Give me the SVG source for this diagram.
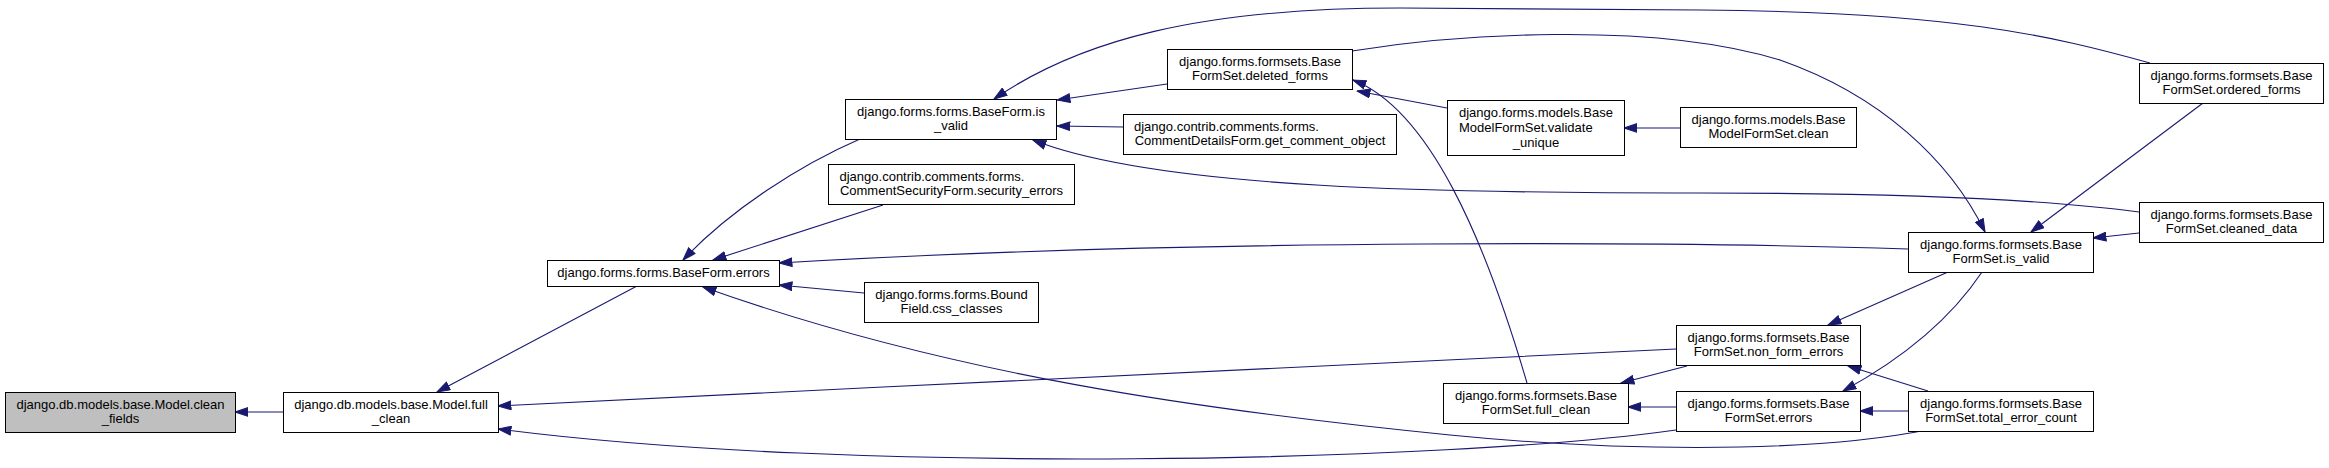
<svg xmlns="http://www.w3.org/2000/svg" width="2329" height="468" viewBox="0 0 2329 468">
<style>
.node rect{fill:#ffffff;stroke:#000000;stroke-width:1}
.node rect.hl{fill:#bfbfbf}
.node text{font-family:"Liberation Sans",Arial,sans-serif;font-size:13px;fill:#000000;text-anchor:middle}
.node text.l{text-anchor:start}
.edge{fill:none;stroke:#191970;stroke-width:1.1;marker-end:url(#arr)}
</style>
<defs>
<marker id="arr" markerUnits="userSpaceOnUse" markerWidth="14" markerHeight="10" viewBox="0 0 13 9" refX="12.5" refY="4.5" orient="auto">
<path d="M0.5,0.5 L12.5,4.5 L0.5,8.5 z" fill="#191970" stroke="#191970" stroke-width="1"/>
</marker>
</defs>
<rect x="0" y="0" width="2329" height="468" fill="#ffffff"/>
<g id="edges">
<path class="edge" d="M283,412 L235,412"/>
<path class="edge" d="M637,286 L437,392"/>
<path class="edge" d="M1676,349 C1400,362 900,386 498,406"/>
<path class="edge" d="M1676,430 C1450,462 850,475 498,429"/>
<path class="edge" d="M1927,430 C1800,455 1600,450 1450,435 C1200,410 950,375 703,287"/>
<path class="edge" d="M860,139 C800,165 730,210 683,260"/>
<path class="edge" d="M883,205 L713,260"/>
<path class="edge" d="M1908,249 C1700,242 1200,238 779,263"/>
<path class="edge" d="M864,293 L779,285"/>
<path class="edge" d="M1167,84 L1057,100"/>
<path class="edge" d="M1123,127 L1057,126"/>
<path class="edge" d="M2139,212 C2050,200 1900,193 1700,193 C1450,193 1160,190 1033,140"/>
<path class="edge" d="M2150,63 C2050,35 1950,12 1700,10 L1400,8 C1200,8 1080,40 994,99"/>
<path class="edge" d="M1352,51 C1450,35 1650,20 1780,60 C1880,95 1950,160 1985,232"/>
<path class="edge" d="M2203,103 L2031,232"/>
<path class="edge" d="M2139,233 L2093,238"/>
<path class="edge" d="M1447,108 L1357,91"/>
<path class="edge" d="M1527,383 C1485,240 1430,110 1353,80"/>
<path class="edge" d="M1680,128 L1624,128"/>
<path class="edge" d="M1908,411 L1860,411"/>
<path class="edge" d="M1928,391 L1848,366"/>
<path class="edge" d="M1948,272 L1828,325"/>
<path class="edge" d="M1982,272 C1950,320 1900,360 1843,391"/>
<path class="edge" d="M1687,366 L1621,383"/>
<path class="edge" d="M1676,407 L1628,407"/>
</g>
<g id="n_clean_fields" class="node"><rect class="hl" x="5.5" y="392.5" width="230" height="40"/><text x="120.5" y="408.5">django.db.models.base.Model.clean</text><text x="120.5" y="423">_fields</text></g>
<g id="n_model_full_clean" class="node"><rect x="283.5" y="392.5" width="215" height="40"/><text x="391" y="408.5">django.db.models.base.Model.full</text><text x="391" y="423">_clean</text></g>
<g id="n_baseform_errors" class="node"><rect x="547.5" y="260.5" width="232" height="26"/><text x="663.5" y="277">django.forms.forms.BaseForm.errors</text></g>
<g id="n_baseform_is_valid" class="node"><rect x="845.5" y="99.5" width="211" height="40"/><text x="951" y="115.5">django.forms.forms.BaseForm.is</text><text x="951" y="130">_valid</text></g>
<g id="n_security_errors" class="node"><rect x="828.5" y="164.5" width="246" height="40"/><text class="l" x="839.5" y="180.5">django.contrib.comments.forms.</text><text x="951.5" y="195">CommentSecurityForm.security_errors</text></g>
<g id="n_css_classes" class="node"><rect x="864.5" y="282.5" width="174" height="40"/><text x="951.5" y="298.5">django.forms.forms.Bound</text><text x="951.5" y="313">Field.css_classes</text></g>
<g id="n_deleted_forms" class="node"><rect x="1167.5" y="49.5" width="185" height="40"/><text x="1260" y="65.5">django.forms.formsets.Base</text><text x="1260" y="80">FormSet.deleted_forms</text></g>
<g id="n_get_comment_object" class="node"><rect x="1123.5" y="114.5" width="273" height="40"/><text class="l" x="1134" y="130.5">django.contrib.comments.forms.</text><text x="1260" y="145">CommentDetailsForm.get_comment_object</text></g>
<g id="n_validate_unique" class="node"><rect x="1447.5" y="100.5" width="177" height="55"/><text class="l" x="1459" y="116.5">django.forms.models.Base</text><text class="l" x="1459" y="131.5">ModelFormSet.validate</text><text x="1536" y="146.5">_unique</text></g>
<g id="n_modelformset_clean" class="node"><rect x="1680.5" y="107.5" width="176" height="40"/><text x="1768.5" y="123.5">django.forms.models.Base</text><text x="1768.5" y="138">ModelFormSet.clean</text></g>
<g id="n_ordered_forms" class="node"><rect x="2139.5" y="63.5" width="184" height="40"/><text x="2231.5" y="79.5">django.forms.formsets.Base</text><text x="2231.5" y="94">FormSet.ordered_forms</text></g>
<g id="n_cleaned_data" class="node"><rect x="2139.5" y="202.5" width="184" height="40"/><text x="2231.5" y="218.5">django.forms.formsets.Base</text><text x="2231.5" y="233">FormSet.cleaned_data</text></g>
<g id="n_formset_is_valid" class="node"><rect x="1908.5" y="232.5" width="185" height="40"/><text x="2001" y="248.5">django.forms.formsets.Base</text><text x="2001" y="263">FormSet.is_valid</text></g>
<g id="n_non_form_errors" class="node"><rect x="1676.5" y="325.5" width="184" height="40"/><text x="1768.5" y="341.5">django.forms.formsets.Base</text><text x="1768.5" y="356">FormSet.non_form_errors</text></g>
<g id="n_formset_full_clean" class="node"><rect x="1443.5" y="383.5" width="185" height="40"/><text x="1536" y="399.5">django.forms.formsets.Base</text><text x="1536" y="414">FormSet.full_clean</text></g>
<g id="n_formset_errors" class="node"><rect x="1676.5" y="391.5" width="184" height="40"/><text x="1768.5" y="407.5">django.forms.formsets.Base</text><text x="1768.5" y="422">FormSet.errors</text></g>
<g id="n_total_error_count" class="node"><rect x="1908.5" y="391.5" width="185" height="40"/><text x="2001" y="407.5">django.forms.formsets.Base</text><text x="2001" y="422">FormSet.total_error_count</text></g>
</svg>
